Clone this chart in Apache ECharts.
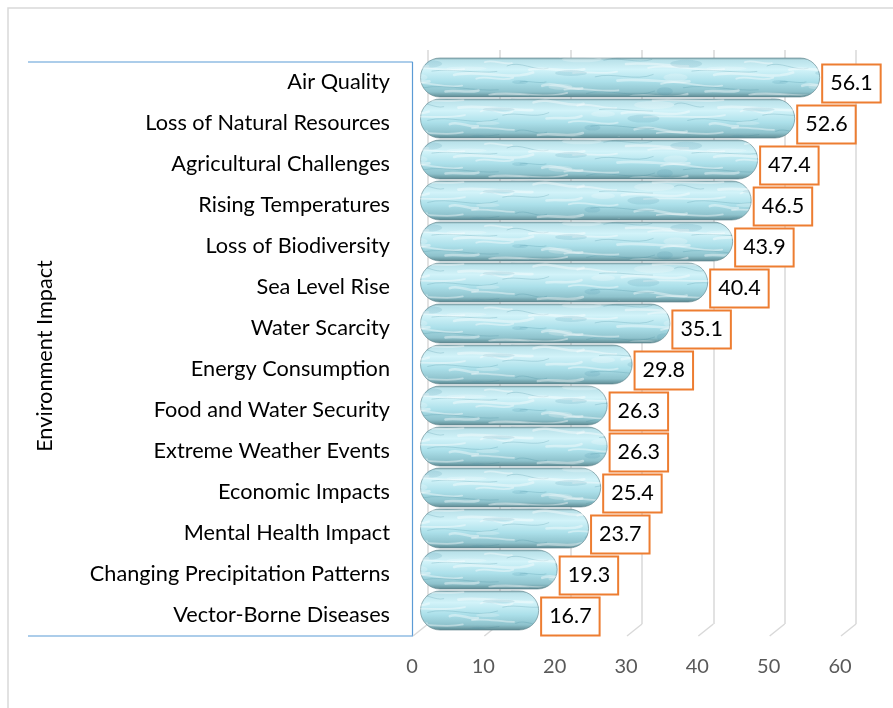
<!DOCTYPE html>
<html>
<head>
<meta charset="utf-8">
<script src="https://cdn.jsdelivr.net/npm/echarts@6/dist/echarts.min.js"></script>
<style>
  html, body { margin: 0; padding: 0; background: #ffffff; }
  #chart { width: 893px; height: 708px; }
</style>
</head>
<body>
<div id="chart"></div>
<script>
// Survey results: share of respondents naming each environmental impact
const categories = [
  'Air Quality',
  'Loss of Natural Resources',
  'Agricultural Challenges',
  'Rising Temperatures',
  'Loss of Biodiversity',
  'Sea Level Rise',
  'Water Scarcity',
  'Energy Consumption',
  'Food and Water Security',
  'Extreme Weather Events',
  'Economic Impacts',
  'Mental Health Impact',
  'Changing Precipitation Patterns',
  'Vector-Borne Diseases'
];
const values = [56.1, 52.6, 47.4, 46.5, 43.9, 40.4, 35.1, 29.8, 26.3, 26.3, 25.4, 23.7, 19.3, 16.7];
const axisMin = 0;
const axisMax = 60;
const axisStep = 10;
const axisTitle = 'Environment Impact';

const FONT = 'Lato, "Liberation Sans", sans-serif';

// Plot geometry: a front plane (labels), a mid plane (bars), a back wall (gridlines)
const plotW = 428, plotH = 574;
const front = { left: 412, top: 62 };
const depth = { dx: 8, dy: -6 };

// Water-like streak texture laid over the bars (tile wraps seamlessly)
function makeTexture() {
  const W = 260, H = 82;
  const c = document.createElement('canvas');
  c.width = W; c.height = H;
  const g = c.getContext('2d');
  g.lineCap = 'round';
  const wrapped = fn => {
    for (const ox of [-W, 0, W]) for (const oy of [-H, 0, H]) fn(ox, oy);
  };
  for (let i = 0; i < 44; i++) {
    const y = (i * 23.7) % H;
    const x = (i * 57.3) % W;
    const len = 26 + (i * 13) % 56;
    const amp = 2 + (i * 7) % 5;
    const col = i % 3 === 0 ? 'rgba(60,130,150,0.22)' : 'rgba(255,255,255,0.40)';
    const lw = 1 + (i % 3) * 0.8;
    wrapped((ox, oy) => {
      g.beginPath();
      g.moveTo(x + ox, y + oy);
      g.bezierCurveTo(x + ox + len * 0.3, y + oy - amp, x + ox + len * 0.7, y + oy + amp,
                      x + ox + len, y + oy + Math.sin(i) * 2.5);
      g.strokeStyle = col;
      g.lineWidth = lw;
      g.stroke();
    });
  }
  for (let i = 0; i < 16; i++) {
    const cx = (i * 83.1) % W, cy = (i * 31.9) % H;
    const rx = 8 + (i % 4) * 4, ry = 2 + (i % 3);
    const col = i % 2 ? 'rgba(255,255,255,0.22)' : 'rgba(70,140,165,0.16)';
    wrapped((ox, oy) => {
      g.beginPath();
      g.ellipse(cx + ox, cy + oy, rx, ry, 0, 0, Math.PI * 2);
      g.fillStyle = col;
      g.fill();
    });
  }
  return c;
}

const chart = echarts.init(document.getElementById('chart'), null, { renderer: 'canvas' });

const shade = {
  type: 'linear', x: 0, y: 0, x2: 0, y2: 1,
  colorStops: [
    { offset: 0.00, color: '#82a6ac' },
    { offset: 0.07, color: '#bae2ea' },
    { offset: 0.30, color: '#d2f3f9' },
    { offset: 0.60, color: '#ace0ea' },
    { offset: 0.86, color: '#8ec2cc' },
    { offset: 1.00, color: '#5a868e' }
  ]
};

const gridOf = (dx, dy) => ({
  left: front.left + dx, top: front.top + dy, width: plotW, height: plotH, containLabel: false
});

const valueAxisBase = { type: 'value', min: axisMin, max: axisMax, interval: axisStep };

chart.setOption({
  animation: false,
  backgroundColor: '#ffffff',
  grid: [
    gridOf(0, 0),
    gridOf(depth.dx, depth.dy),
    gridOf(depth.dx * 2, depth.dy * 2)
  ],
  xAxis: [
    Object.assign({}, valueAxisBase, {
      gridIndex: 0,
      axisLine: { show: false }, axisTick: { show: false }, splitLine: { show: false },
      axisLabel: { color: '#595959', fontSize: 20, fontFamily: FONT, margin: 21 }
    }),
    Object.assign({}, valueAxisBase, {
      gridIndex: 1, show: false
    }),
    Object.assign({}, valueAxisBase, {
      gridIndex: 2,
      axisLine: { show: false }, axisTick: { show: false }, axisLabel: { show: false },
      splitLine: { show: true, lineStyle: { color: '#d9d9d9', width: 1.5 } }
    })
  ],
  yAxis: [
    {
      type: 'category', gridIndex: 0, data: categories, inverse: true,
      axisLine: { show: true, lineStyle: { color: '#5b9bd5', width: 1.2 } },
      axisTick: { show: false },
      axisLabel: { color: '#000000', fontSize: 21.7, fontFamily: FONT, margin: 22, padding: [4, 0, 0, 0] },
      name: axisTitle, nameLocation: 'middle', nameRotate: 90, nameGap: 356,
      nameTextStyle: { color: '#000000', fontSize: 21.7, fontFamily: FONT, padding: [0, 14, 0, 0] }
    },
    { type: 'category', gridIndex: 1, data: categories, inverse: true, show: false },
    { type: 'category', gridIndex: 2, data: categories, inverse: true, show: false }
  ],
  series: [
    {
      type: 'bar', xAxisIndex: 1, yAxisIndex: 1, data: values,
      barWidth: 40, barGap: '-100%',
      itemStyle: { color: shade, borderRadius: 20, borderColor: 'rgba(90,128,136,0.6)', borderWidth: 1 },
      label: {
        show: true, position: 'right', distance: 3, offset: [0, 6],
        formatter: p => p.value.toFixed(1),
        color: '#000000', fontSize: 21.5, fontFamily: FONT, lineHeight: 24,
        backgroundColor: '#ffffff', borderColor: '#ed7d31', borderWidth: 2,
        padding: [7, 7, 5, 7]
      },
      z: 2
    },
    {
      type: 'bar', xAxisIndex: 1, yAxisIndex: 1, data: values,
      barWidth: 38, barGap: '-100%', silent: true,
      itemStyle: { color: { image: makeTexture(), repeat: 'repeat' }, borderRadius: 19 },
      z: 3
    }
  ]
});

// Decorations tied to the axes: gridline feet, category box, outer frame
function decorate() {
  const g = [];
  const backBottom = front.top + depth.dy * 2 + plotH;
  const frontBottom = front.top + plotH;
  for (let v = axisMin; v <= axisMax; v += axisStep) {
    const xb = chart.convertToPixel({ xAxisIndex: 2 }, v);
    const xf = chart.convertToPixel({ xAxisIndex: 0 }, v);
    g.push({
      type: 'line', z: 1,
      shape: { x1: xb, y1: backBottom, x2: xf + 1, y2: frontBottom },
      style: { stroke: '#d9d9d9', lineWidth: 1.5 }
    });
  }
  const x0 = chart.convertToPixel({ xAxisIndex: 0 }, axisMin);
  [front.top, frontBottom].forEach(y => g.push({
    type: 'line', z: 5,
    shape: { x1: 28, y1: y, x2: x0, y2: y },
    style: { stroke: '#5b9bd5', lineWidth: 1.2 }
  }));
  g.push({
    type: 'rect', z: 0,
    shape: { x: 8, y: 8, width: 900, height: 720 },
    style: { fill: null, stroke: '#d9d9d9', lineWidth: 1.5 }
  });
  chart.setOption({ graphic: g });
}
decorate();
</script>
</body>
</html>
